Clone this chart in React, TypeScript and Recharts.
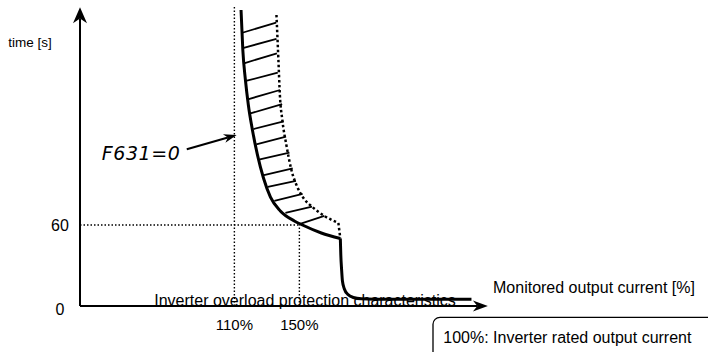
import React from "react";
import { ComposedChart, Line, XAxis, YAxis, ReferenceLine } from "recharts";

// overload curve (F631=0), current [%] vs time [s]
const curveCurrent = [114.1, 115.2, 116.8, 118.6, 121.1, 124.2, 127.9, 132.2, 138.3, 146.9, 151.9, 163.5, 175.2];
const curveTime = [219.3, 189.6, 167.4, 148.9, 130.4, 111.9, 94.8, 80.7, 70.4, 63.0, 60.0, 54.1, 50.0];

// trip edge and the low tail along the axis
const dropCurrent = [175.2, 175.5, 176.0, 176.5, 177.7, 179.9, 183.2, 188.2, 196.2, 255.9];
const dropTime = [50.0, 37.8, 26.7, 18.5, 12.6, 8.5, 6.3, 5.3, 5.0, 5.0];

// dotted upper limit of the hatched band
const upperCurrent = [135.9, 137.1, 138.0, 139.5, 142.0, 145.1, 148.2, 152.5, 158.0, 165.4, 174.0];
const upperTime = [215.6, 182.2, 156.3, 137.8, 119.3, 100.7, 89.6, 80.0, 73.3, 66.7, 61.5];

// hatch strokes between the two curves
const hatchFromCurrent = [114.9, 115.2, 115.9, 117.1, 118.3, 119.9, 121.7, 123.5, 125.7, 128.2, 130.6, 134.6, 141.4, 150.0];
const hatchFromTime = [202.4, 191.1, 179.8, 166.7, 153.1, 142.7, 131.1, 119.8, 108.7, 97.0, 88.2, 77.8, 68.9, 60.7];
const hatchToCurrent = [135.7, 135.9, 136.2, 136.7, 138.1, 139.4, 140.3, 141.8, 143.9, 145.9, 147.9, 152.0, 157.8, 165.4];
const hatchToTime = [209.9, 197.8, 187.2, 172.8, 160.0, 149.6, 136.8, 125.4, 113.6, 102.0, 92.6, 83.0, 73.6, 66.7];

const xTicks = [110, 150];
const yTicks = [0, 60];

const xDomain = [15, 265];
const yDomain = [0, 221];

const toPoints = (xs: number[], ys: number[]) => xs.map((x, i) => ({ x, y: ys[i] }));

const FONT = "'Liberation Sans', Arial, sans-serif";

const arrowShape = (head: number, half: number, width: number) => (p: any) => {
  const { x1, y1, x2, y2 } = p;
  const dx = x2 - x1;
  const dy = y2 - y1;
  const len = Math.hypot(dx, dy) || 1;
  const ux = dx / len;
  const uy = dy / len;
  const bx = x2 - ux * head;
  const by = y2 - uy * head;
  const nx = x2 - ux * head * 0.7;
  const ny = y2 - uy * head * 0.7;
  return (
    <g>
      <line x1={x1} y1={y1} x2={nx} y2={ny} stroke="#000" strokeWidth={width} />
      <path
        d={`M${x2},${y2} L${bx - uy * half},${by + ux * half} L${nx},${ny} L${bx + uy * half},${by - ux * half} Z`}
        fill="#000"
      />
    </g>
  );
};

const XTick = ({ x, y, payload }: any) => (
  <text x={x} y={y + 24} textAnchor="middle" fontSize={15} fontFamily={FONT} fill="#000">
    {payload.value}%
  </text>
);

const YTick = ({ x, y, payload }: any) => (
  <text x={x - 20} y={y + (payload.value === 0 ? 9 : 5.7)} textAnchor="middle" fontSize={16} fontFamily={FONT} fill="#000">
    {payload.value}
  </text>
);

const dotted = { stroke: "#000", strokeWidth: 1.4, strokeDasharray: "1.5 2" };

export default function App() {
  const curve = toPoints(curveCurrent, curveTime);
  const drop = toPoints(dropCurrent, dropTime);
  const upper = toPoints(upperCurrent, upperTime);
  const lastUpper = upper[upper.length - 1];
  const corner = curve[curve.length - 1];

  return (
    <div style={{ position: "fixed", left: 0, top: 0, width: 708, height: 352, background: "#fff" }}>
      <ComposedChart width={708} height={352} margin={{ top: 7.65, right: 221.75, bottom: 0, left: 0 }}>
        <XAxis
          type="number"
          dataKey="x"
          domain={xDomain}
          allowDataOverflow
          ticks={xTicks}
          axisLine={false}
          tickLine={false}
          tickSize={0}
          tickMargin={0}
          height={46}
          tick={<XTick />}
        />
        <YAxis
          type="number"
          dataKey="y"
          domain={yDomain}
          allowDataOverflow
          ticks={yTicks}
          axisLine={false}
          tickLine={false}
          tickSize={0}
          tickMargin={0}
          width={80}
          tick={<YTick />}
        />

        {/* guide lines */}
        <ReferenceLine segment={[{ x: 110, y: 0 }, { x: 110, y: 223 }]} ifOverflow="visible" {...dotted} />
        <ReferenceLine segment={[{ x: 150, y: 0 }, { x: 150, y: 60 }]} ifOverflow="visible" {...dotted} />
        <ReferenceLine segment={[{ x: 15, y: 60 }, { x: 150, y: 60 }]} ifOverflow="visible" {...dotted} />

        {/* hatching */}
        {hatchFromCurrent.map((c, i) => (
          <ReferenceLine
            key={`h${i}`}
            segment={[{ x: c, y: hatchFromTime[i] }, { x: hatchToCurrent[i], y: hatchToTime[i] }]}
            ifOverflow="visible"
            stroke="#000"
            strokeWidth={1.8}
          />
        ))}

        {/* dotted upper limit */}
        <Line
          data={upper}
          dataKey="y"
          type="monotoneX"
          stroke="#000"
          strokeWidth={2.5}
          strokeDasharray="2.5 2.5"
          dot={false}
          activeDot={false}
          isAnimationActive={false}
        />
        <ReferenceLine
          segment={[{ x: lastUpper.x, y: lastUpper.y }, { x: corner.x, y: corner.y }]}
          ifOverflow="visible"
          stroke="#000"
          strokeWidth={2.5}
          strokeDasharray="2.5 2.5"
        />

        {/* main curve */}
        <Line data={curve} dataKey="y" type="monotoneX" stroke="#000" strokeWidth={3} dot={false} activeDot={false} isAnimationActive={false} />
        <Line data={drop} dataKey="y" type="monotoneX" stroke="#000" strokeWidth={3} dot={false} activeDot={false} isAnimationActive={false} />

        {/* axes with arrows */}
        <ReferenceLine segment={[{ x: 15, y: 0 }, { x: 15, y: 221.3 }]} ifOverflow="visible" shape={arrowShape(16, 7, 2)} />
        <ReferenceLine segment={[{ x: 15, y: 0 }, { x: 266, y: 0 }]} ifOverflow="visible" shape={arrowShape(15, 5.5, 2)} />

        {/* pointer to the curve */}
        <ReferenceLine segment={[{ x: 80.7, y: 116.1 }, { x: 111.4, y: 126.7 }]} ifOverflow="visible" shape={arrowShape(13, 4.5, 2)} />
      </ComposedChart>

      <svg width={708} height={352} style={{ position: "absolute", left: 0, top: 0, pointerEvents: "none" }}>
        <text x={8.3} y={46.5} fontSize={13.5} fontFamily={FONT} fill="#000">time [s]</text>
        <text x={493} y={293.3} fontSize={16} fontFamily={FONT} fill="#000">Monitored output current [%]</text>
        <text x={305} y={305.5} textAnchor="middle" fontSize={16} fontFamily={FONT} fill="#000">
          Inverter overload protection characteristics
        </text>
        <text
          x={101.7}
          y={160}
          fontSize={19}
          fontWeight={200}
          fontStyle="italic"
          letterSpacing={0.6}
          fontFamily="'DejaVu Sans', sans-serif"
          fill="#000"
        >
          F631=0
        </text>
        <rect x={433} y={317.3} width={290} height={50} rx={7} fill="none" stroke="#000" strokeWidth={1.3} />
        <text x={443.3} y={343.3} fontSize={16} fontFamily={FONT} fill="#000">100%: Inverter rated output current</text>
      </svg>
    </div>
  );
}
